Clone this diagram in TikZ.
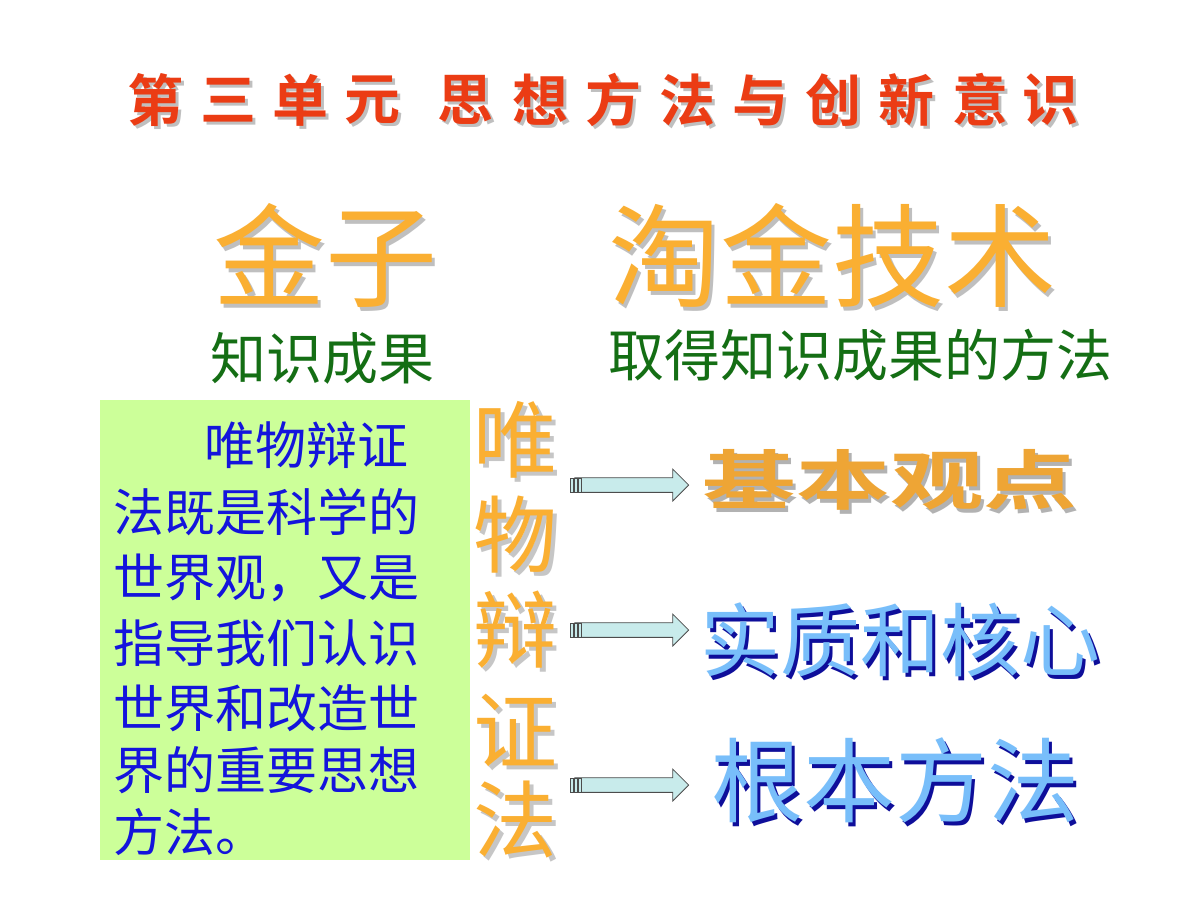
\documentclass[tikz,border=0pt]{standalone}
\usepackage{fontspec}
\newfontfamily\cjk{Noto Sans CJK SC}
\newfontfamily\cjkb{Noto Sans CJK SC Bold}
\usetikzlibrary{shapes.arrows}
\definecolor{titred}{RGB}{235,60,20}
\definecolor{gold}{RGB}{250,175,50}
\definecolor{dgreen}{RGB}{20,110,20}
\definecolor{boxg}{RGB}{204,255,153}
\definecolor{tblue}{RGB}{20,20,220}
\definecolor{acyan}{RGB}{200,235,235}
\definecolor{lblue}{RGB}{120,190,250}
\tikzset{
  titch/.style={font=\cjkb\fontsize{28}{28}\selectfont,text=titred},
  bigch/.style={font=\cjk\fontsize{56}{56}\selectfont,text=gold},
  sub/.style={font=\cjk\fontsize{28}{28}\selectfont,text=dgreen},
  body/.style={font=\cjk\fontsize{25.5}{25.5}\selectfont,text=tblue,anchor=west},
  vch/.style={font=\cjk\fontsize{42}{42}\selectfont,text=gold},
  blk/.style={single arrow,draw=black!70,fill=acyan,minimum height=57pt,minimum width=16pt,single arrow head extend=2pt,inner sep=1.5pt},
}
\begin{document}
\begin{tikzpicture}[x=0.5pt,y=-0.5pt]
\useasboundingbox (0,0) rectangle (1200,900);
\fill[white] (0,0) rectangle (1200,900);
% title
\foreach \c/\x [count=\i] in {第/155,三/228,单/300,元/372,思/465,想/540,方/613,法/687,与/760,创/833,新/906,意/980,识/1050}{
  \node[titch,text=gray!50] at (\x+3,100+3) {\c};
  \node[titch] (t\i) at (\x,100) {\c};
}
% big words
\node[bigch,text=gray!50] at (328,259) {金子};
\node[bigch] (jz) at (325,255) {金子};
\node[bigch,text=gray!50] at (835,259) {淘金技术};
\node[bigch] (tj) at (832,255) {淘金技术};
\node[sub] (zs) at (322,358) {知识成果};
\node[sub] (qd) at (860,355) {取得知识成果的方法};
% box
\node[draw=none,fill=boxg,minimum width=185pt,minimum height=230pt,inner sep=0] (box) at (285,630) {};
\node[body] (l1) at (197,445) {唯物辩证};
\node[body] (l2) at (106,512) {法既是科学的};
\node[body] (l3) at (106,578) {世界观，又是};
\node[body] (l4) at (106,643) {指导我们认识};
\node[body] (l5) at (106,708) {世界和改造世};
\node[body] (l6) at (106,770) {界的重要思想};
\node[body] (l7) at (106,832) {方法。};
% vertical
\foreach \c/\y [count=\i] in {唯/440,物/535,辩/630,证/730,法/820}{
  \node[vch,text=gray!45] at (519,\y+4) {\c};
  \node[vch] (v\i) at (515,\y) {\c};
}
% arrows
\foreach \y/\n in {485/a,630/b,785/c}{
  \node[blk] (\n) at (628,\y) {};
  \foreach \dx in {0,4,8}{\draw[black!70,fill=acyan] (570+\dx,\y-7) rectangle ++(3,14);}
}
% right words
\node[font=\cjkb\fontsize{36}{36}\selectfont,text=gray!60,xscale=1.3,yscale=0.9] at (893,484) {基本观点};
\node[font=\cjkb\fontsize{36}{36}\selectfont,text=gold!80!brown,xscale=1.3,yscale=0.9] (jb) at (890,480) {基本观点};
\node[font=\cjk\fontsize{40}{40}\selectfont,text=tblue!70!black] at (903,644) {实质和核心};
\node[font=\cjk\fontsize{40}{40}\selectfont,text=lblue] (sz) at (900,640) {实质和核心};
\node[font=\cjk\fontsize{46}{46}\selectfont,text=tblue!70!black] at (898,784) {根本方法};
\node[font=\cjk\fontsize{46}{46}\selectfont,text=lblue] (gb) at (895,780) {根本方法};
\end{tikzpicture}
\end{document}
